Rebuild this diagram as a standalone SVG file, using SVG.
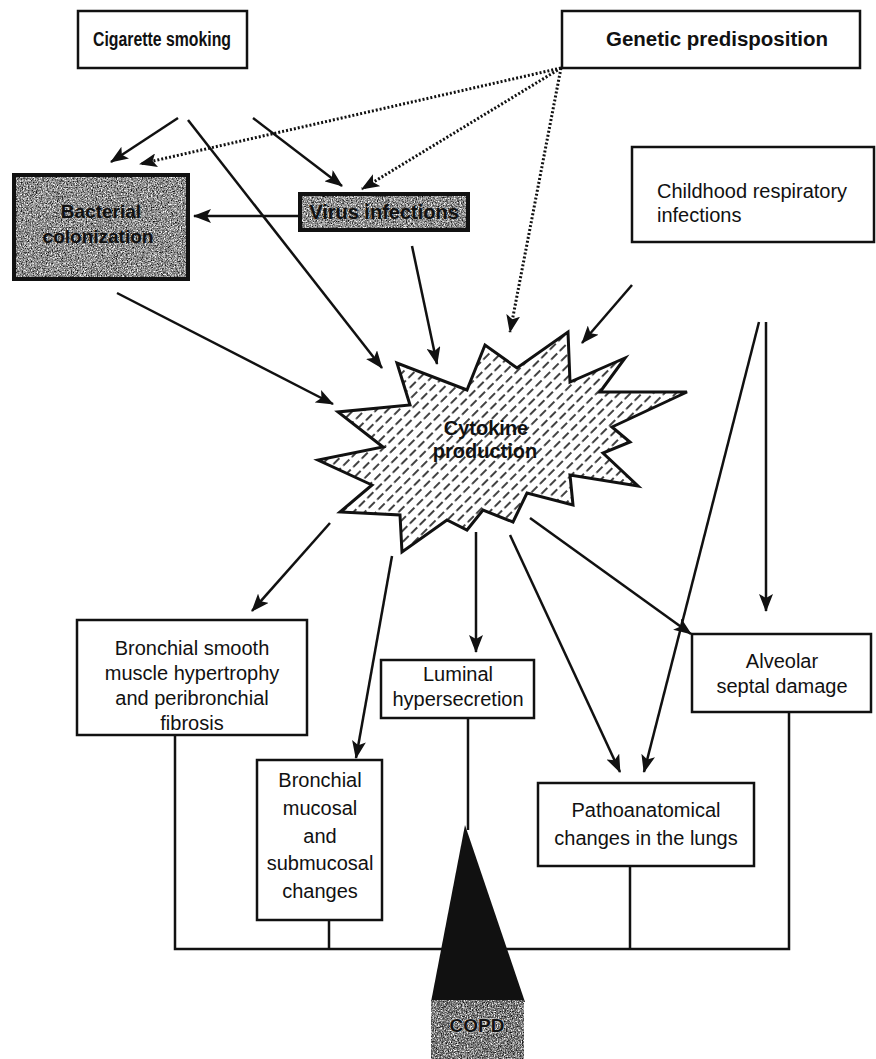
<svg xmlns="http://www.w3.org/2000/svg" width="876" height="1059" viewBox="0 0 876 1059">
<defs>
<style>
.box{fill:#fff;stroke:#111;stroke-width:2.5}
.t{font-family:"Liberation Sans",Arial,sans-serif;font-size:20px;fill:#111;text-anchor:middle}
.tb{font-family:"Liberation Sans",Arial,sans-serif;font-size:20px;font-weight:bold;fill:#111;text-anchor:middle}
.ln{stroke:#111;stroke-width:2.5;fill:none}
.arr{stroke:#111;stroke-width:2.5;fill:none;marker-end:url(#ah)}
.dot{stroke:#111;stroke-width:3;fill:none;stroke-dasharray:2 2;marker-end:url(#ah)}
</style>
<marker id="ah" markerUnits="userSpaceOnUse" markerWidth="18" markerHeight="14" refX="17" refY="7" orient="auto">
<path d="M0,0 L18,7 L0,14 L4,7 Z" fill="#111"/>
</marker>
<pattern id="hatch" patternUnits="userSpaceOnUse" width="16" height="12" patternTransform="rotate(45)">
<rect width="16" height="12" fill="#fff"/>
<line x1="4" y1="0" x2="4" y2="8.5" stroke="#111" stroke-width="1.6"/>
<line x1="12" y1="6" x2="12" y2="14.5" stroke="#111" stroke-width="1.6"/>
<line x1="12" y1="-6" x2="12" y2="2.5" stroke="#111" stroke-width="1.6"/>
</pattern>
<filter id="speck" x="0" y="0" width="100%" height="100%">
<feTurbulence type="fractalNoise" baseFrequency="0.7" numOctaves="2" seed="4" result="n"/>
<feColorMatrix in="n" type="matrix" values="0 0 0 0 1  0 0 0 0 1  0 0 0 0 1  3 0 0 0 -1.25" result="w"/>
<feComposite in="w" in2="SourceGraphic" operator="in"/>
</filter>
<filter id="speckd" x="0" y="0" width="100%" height="100%">
<feTurbulence type="fractalNoise" baseFrequency="0.8" numOctaves="2" seed="9" result="n"/>
<feColorMatrix in="n" type="matrix" values="0 0 0 0 0  0 0 0 0 0  0 0 0 0 0  3 0 0 0 -1.45" result="w"/>
<feComposite in="w" in2="SourceGraphic" operator="in"/>
</filter>
</defs>
<rect width="876" height="1059" fill="#fff"/>

<g id="connectors">
<line class="arr" x1="178" y1="118" x2="111" y2="162"/>
<line class="arr" x1="188" y1="120" x2="382" y2="368"/>
<line class="arr" x1="253" y1="118" x2="342" y2="186"/>
<line class="dot" x1="561" y1="68" x2="140" y2="164"/>
<line class="dot" x1="561" y1="68" x2="362" y2="189"/>
<line class="dot" x1="561" y1="68" x2="510" y2="332"/>
<line class="arr" x1="300" y1="216" x2="194" y2="216"/>
<line class="arr" x1="412" y1="246" x2="437" y2="364"/>
<line class="arr" x1="117" y1="293" x2="333" y2="404"/>
<line class="arr" x1="632" y1="285" x2="582" y2="343"/>
<line class="arr" x1="766" y1="322" x2="766" y2="611"/>
<line class="arr" x1="759" y1="322" x2="644" y2="772"/>
<line class="arr" x1="330" y1="523" x2="252" y2="611"/>
<line class="arr" x1="392" y1="556" x2="356" y2="758"/>
<line class="arr" x1="476" y1="532" x2="476" y2="652"/>
<line class="arr" x1="510" y1="535" x2="620" y2="772"/>
<line class="arr" x1="530" y1="518" x2="691" y2="634"/>
<polyline class="ln" points="175,735 175,949 789,949 789,712"/>
<line class="ln" x1="329" y1="920" x2="329" y2="949"/>
<line class="ln" x1="630" y1="866" x2="630" y2="949"/>
<line class="ln" x1="468" y1="718" x2="468" y2="830"/>
</g>

<g id="cigarette-smoking">
<rect class="box" x="78" y="11" width="169" height="57"/>
<text class="tb" x="162" y="46" textLength="138" lengthAdjust="spacingAndGlyphs">Cigarette smoking</text>
</g>

<g id="genetic-predisposition">
<rect class="box" x="562" y="11" width="298" height="57"/>
<text class="tb" x="717" y="46" textLength="222" lengthAdjust="spacingAndGlyphs">Genetic predisposition</text>
</g>

<g id="bacterial-colonization">
<rect x="14" y="175" width="174" height="104" fill="#858585" stroke="#111" stroke-width="4"/>
<rect x="16" y="177" width="170" height="100" fill="#fff" filter="url(#speck)"/>
<rect x="16" y="177" width="170" height="100" fill="#000" filter="url(#speckd)"/>
<text class="tb" x="101" y="218" fill="#1a1a1a" style="font-size:19px">Bacterial</text>
<text class="tb" x="98" y="243" fill="#1a1a1a" style="font-size:19px">colonization</text>
</g>

<g id="virus-infections">
<rect x="300" y="194" width="168" height="36" fill="#858585" stroke="#111" stroke-width="4"/>
<rect x="302" y="196" width="164" height="32" fill="#fff" filter="url(#speck)"/>
<rect x="302" y="196" width="164" height="32" fill="#000" filter="url(#speckd)"/>
<text class="tb" x="384" y="219" fill="#1a1a1a">Virus infections</text>
</g>

<g id="childhood-respiratory-infections">
<rect class="box" x="632" y="147" width="242" height="95"/>
<text class="t" x="657" y="198" style="text-anchor:start">Childhood respiratory</text>
<text class="t" x="657" y="222" style="text-anchor:start">infections</text>
</g>

<g id="cytokine-production">
<polygon points="397,363 410,405 338,412 383,447 318,460 372,485 340,512 400,515 402,552 447,520 467,530 483,510 513,522 527,493 573,505 570,475 638,486 603,453 630,442 612,427 687,392 600,392 625,358 570,382 568,332 517,368 485,345 467,390" fill="url(#hatch)" stroke="#111" stroke-width="3" stroke-linejoin="miter"/>
<text class="tb" x="486" y="435">Cytokine</text>
<text class="tb" x="485" y="458">production</text>
</g>

<g id="bronchial-smooth-muscle">
<rect class="box" x="77" y="620" width="230" height="115"/>
<text class="t" x="192" y="655">Bronchial smooth</text>
<text class="t" x="192" y="680">muscle hypertrophy</text>
<text class="t" x="192" y="705">and peribronchial</text>
<text class="t" x="192" y="730">fibrosis</text>
</g>

<g id="luminal-hypersecretion">
<rect class="box" x="381" y="660" width="153" height="58"/>
<text class="t" x="458" y="681">Luminal</text>
<text class="t" x="458" y="706">hypersecretion</text>
</g>

<g id="alveolar-septal-damage">
<rect class="box" x="692" y="634" width="179" height="78"/>
<text class="t" x="782" y="668">Alveolar</text>
<text class="t" x="782" y="693">septal damage</text>
</g>

<g id="bronchial-mucosal">
<rect class="box" x="257" y="760" width="125" height="160"/>
<text class="t" x="320" y="787">Bronchial</text>
<text class="t" x="320" y="815">mucosal</text>
<text class="t" x="320" y="843">and</text>
<text class="t" x="320" y="870">submucosal</text>
<text class="t" x="320" y="898">changes</text>
</g>

<g id="pathoanatomical-changes">
<rect class="box" x="538" y="783" width="216" height="83"/>
<text class="t" x="646" y="817">Pathoanatomical</text>
<text class="t" x="646" y="845">changes in the lungs</text>
</g>

<g id="copd">
<polygon points="465,825 525,1002 431,1002" fill="#111"/>
<rect x="431" y="1000" width="93" height="59" fill="#6a6a6a"/>
<rect x="431" y="1000" width="93" height="59" fill="#fff" filter="url(#speck)"/>
<rect x="431" y="1000" width="93" height="59" fill="#000" filter="url(#speckd)"/>
<text class="tb" x="477" y="1032" fill="#1a1a1a" style="font-size:19px" stroke="#ddd" stroke-width="0.8" paint-order="stroke">COPD</text>
</g>
</svg>
